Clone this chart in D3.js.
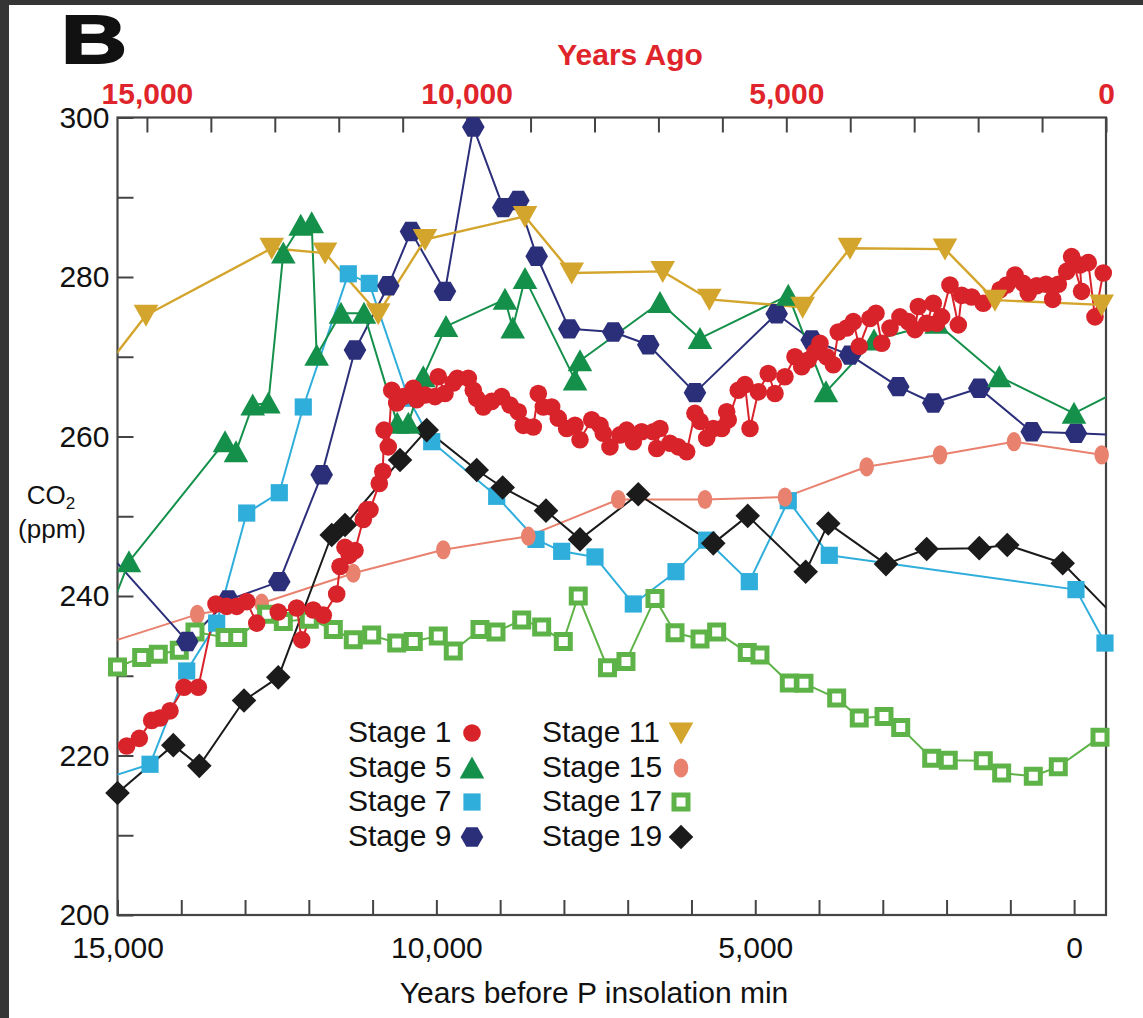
<!DOCTYPE html>
<html><head><meta charset="utf-8">
<script src="https://cdn.jsdelivr.net/npm/d3@7"></script>
<style>
body{margin:0;background:#fff}
svg{display:block}
text{font-family:"Liberation Sans",Arial,Helvetica,sans-serif}
</style>
</head><body>
<svg id="chart" width="1143" height="1018"></svg>
<script>
// ---------------- DATA (years before P insolation min, CO2 ppm) ----------------
const stage1 = [[14856,221.2],[14658,222.15],[14464,224.4],[14334,224.7],[14177,225.6],[13957,228.55],[13733,228.55],[13456,239.0],[13288,238.7],[13131,238.7],[12974,239.3],[12817,236.6],[12479,238.0],[12190,238.5],[12112,234.5],[11930,238.25],[11773,237.6],[11563,240.25],[11511,243.7],[11433,246.1],[11365,245.1],[11276,245.7],[11146,249.6],[11093,250.8],[11041,250.8],[10895,254.1],[10840,255.6],[10820,260.8],[10754,258.7],[10700,265.8],[10622,264.2],[10519,265.0],[10362,266.05],[10309,264.6],[10178,265.2],[10022,265.0],[9970,267.5],[9865,265.4],[9735,266.7],[9672,267.3],[9499,267.3],[9421,265.8],[9368,264.8],[9264,263.7],[9133,264.4],[8976,265.0],[8846,263.95],[8716,263.1],[8637,261.4],[8480,261.2],[8402,265.4],[8323,263.7],[8192,263.7],[8088,262.3],[7957,261.0],[7826,261.4],[7748,259.6],[7565,262.1],[7434,261.4],[7383,260.4],[7278,258.7],[7121,260.2],[7016,260.8],[6912,259.35],[6781,260.6],[6599,260.6],[6545,258.5],[6494,261.0],[6337,259.15],[6207,258.7],[6075,258.1],[5945,262.9],[5866,261.9],[5761,259.8],[5658,261.0],[5526,261.0],[5448,263.1],[5423,262.1],[5266,265.8],[5161,266.5],[5082,261.0],[4952,265.6],[4796,267.9],[4690,265.4],[4534,267.5],[4377,270.0],[4272,268.75],[4168,269.6],[4063,270.6],[3985,271.7],[3880,270.0],[3776,269.0],[3698,273.1],[3566,273.6],[3462,274.4],[3369,271.3],[3201,274.8],[3107,275.45],[3017,271.7],[2887,273.6],[2731,275.0],[2600,274.4],[2495,273.4],[2443,276.3],[2311,274.2],[2208,276.7],[2155,274.2],[2077,275.0],[1947,279.0],[1816,274.0],[1763,277.7],[1606,277.5],[1425,276.7],[1162,278.4],[1057,279.0],[927,280.25],[797,279.2],[719,278.0],[587,278.9],[441,279.1],[336,277.2],[248,279.1],[117,280.7],[39,282.55],[-117,278.2],[-91,281.5],[-222,281.8],[-327,275.0],[-457,280.5]];
const stage5 = [[15200,236.5],[14820,244.3],[13314,259.35],[13142,258.1],[12880,263.95],[12635,264.2],[12400,283.0],[12127,286.5],[11955,286.8],[11877,270.2],[11496,275.45],[11135,275.45],[10613,261.65],[10440,261.65],[10205,267.5],[9849,273.8],[8924,277.2],[8803,273.6],[8610,279.8],[7826,267.1],[7748,269.5],[6494,276.8],[5866,272.3],[4482,277.7],[3891,265.6],[3138,272.1],[2155,274.2],[1173,267.5],[2,262.9],[-700,265.75]];
const stage7 = [[15200,217.1],[14490,218.9],[13915,230.6],[13445,236.6],[12974,250.4],[12463,252.95],[12087,263.7],[11381,280.4],[11052,279.2],[10440,264.8],[10073,259.35],[9054,252.5],[8438,247.1],[8035,245.6],[7513,244.9],[6912,239.0],[6243,243.05],[5761,247.0],[5093,241.8],[4482,251.95],[3839,245.1],[-29,240.8],[-484,234.1]];
const stage9 = [[15200,245.9],[13906,234.3],[13263,239.5],[12463,241.8],[11798,255.2],[11276,270.85],[10754,278.9],[10398,285.7],[9865,278.2],[9421,298.8],[8951,288.7],[8715,289.6],[8427,282.6],[7916,273.5],[7226,273.1],[6677,271.5],[5945,265.5],[4664,275.4],[4115,272.1],[3514,270.2],[2757,266.25],[2208,264.2],[1487,266.05],[665,260.6],[-29,260.4],[-700,260.2]];
const stage11 = [[15300,267.5],[14553,275.2],[12582,283.6],[11746,283.0],[10911,275.4],[10178,284.7],[8610,287.6],[7878,280.5],[6451,280.7],[5720,277.2],[4256,276.2],[3514,283.6],[2025,283.5],[1241,277.1],[-432,276.5]];
const stage15 = [[15200,234.0],[13749,237.7],[12739,239.1],[11303,242.85],[9891,245.8],[8559,247.5],[7147,252.1],[5788,252.1],[4534,252.4],[3253,256.2],[2103,257.7],[943,259.35],[-432,257.7]];
const stage17 = [[15000,231.1],[14621,232.3],[14360,232.7],[14031,233.2],[13785,235.5],[13314,234.8],[13115,234.8],[12661,237.7],[12400,236.8],[11993,237.1],[11616,235.8],[11303,234.5],[11014,235.1],[10622,234.1],[10362,234.3],[9970,235.0],[9735,233.1],[9316,235.8],[9065,235.5],[8662,237.0],[8349,236.1],[8010,234.3],[7775,240.0],[7317,231.0],[7027,231.8],[6572,239.7],[6258,235.4],[5866,234.6],[5605,235.5],[5125,232.9],[4926,232.6],[4466,229.1],[4236,229.05],[3723,227.2],[3369,224.7],[2981,224.9],[2719,223.5],[2233,219.65],[1973,219.4],[1424,219.35],[1136,217.8],[640,217.4],[248,218.6],[-406,222.3]];
const stage19 = [[15000,215.3],[14125,221.3],[13717,218.7],[13016,226.9],[12479,229.8],[11641,247.65],[11433,248.9],[10570,257.05],[10152,260.8],[9368,255.8],[8960,253.6],[8281,250.7],[7748,247.1],[6834,252.75],[5658,246.6],[5118,250.05],[4209,243.05],[3855,249.1],[2950,244.0],[2312,245.9],[1487,246.0],[1048,246.4],[179,244.1],[-700,236.9]];

const stageNames = ["Stage 1","Stage 5","Stage 7","Stage 9","Stage 11","Stage 15","Stage 17","Stage 19"];
const bottomTickLabels = [15000,10000,5000,0];
const topTickLabels = [15000,10000,5000,0];
const yTickLabels = [200,220,240,260,280,300];

// ---------------- STYLE ----------------
const styles = {
  "Stage 1":  {data: stage1,  color:"#D8232A", shape:"circle"},
  "Stage 5":  {data: stage5,  color:"#14904A", shape:"triUp"},
  "Stage 7":  {data: stage7,  color:"#30AEDB", shape:"square"},
  "Stage 9":  {data: stage9,  color:"#2B2F7A", shape:"hexagon"},
  "Stage 11": {data: stage11, color:"#D4A52C", shape:"triDown"},
  "Stage 15": {data: stage15, color:"#E9816F", shape:"ellipse"},
  "Stage 17": {data: stage17, color:"#5DB347", shape:"openSquare"},
  "Stage 19": {data: stage19, color:"#1B1B1B", shape:"diamond"}
};
const drawOrder = ["Stage 7","Stage 15","Stage 17","Stage 19","Stage 9","Stage 5","Stage 1","Stage 11"];

const shapes = {
  circle: "M8.8,0A8.8,8.8 0 1,1 -8.8,0A8.8,8.8 0 1,1 8.8,0Z",
  ellipse: "M7.3,0A7.3,9.6 0 1,1 -7.3,0A7.3,9.6 0 1,1 7.3,0Z",
  triUp: "M0,-11.5L12.3,10.5L-12.3,10.5Z",
  triDown: "M0,11.5L12.3,-10.5L-12.3,-10.5Z",
  square: "M-8.6,-8.6h17.2v17.2h-17.2Z",
  openSquare: "M-7,-7h14v14h-14Z",
  hexagon: "M-11.3,0L-5.65,-9.7L5.65,-9.7L11.3,0L5.65,9.7L-5.65,9.7Z",
  diamond: "M0,-12.3L12.3,0L0,12.3L-12.3,0Z"
};

const W = 1143, H = 1018;
const L = 117.5, R = 1106, T = 117.5, B = 915;

const svg = d3.select("#chart");
svg.append("rect").attr("width",W).attr("height",H).attr("fill","#fff");
svg.append("rect").attr("x",0).attr("y",0).attr("width",9).attr("height",H).attr("fill","#353535");
svg.append("rect").attr("x",0).attr("y",0).attr("width",W).attr("height",5).attr("fill","#353535");

const x = d3.scaleLinear().domain([15000,-500]).range([L,R]);
const xTop = d3.scaleLinear().domain([15460,0]).range([L,R]);
const y = d3.scaleLinear().domain([200,300]).range([B,T]);

const axisColor = "#444";

// bottom axis
const gB = svg.append("g").attr("transform",`translate(0,${B})`)
  .call(d3.axisBottom(x).tickValues(d3.range(15000,-1,-1000)).tickSizeInner(-15).tickSizeOuter(0).tickPadding(22)
    .tickFormat(d => bottomTickLabels.includes(d) ? d3.format(",")(d) : ""));
// top axis
const gT = svg.append("g").attr("transform",`translate(0,${T})`)
  .call(d3.axisTop(xTop).tickValues(d3.range(15000,-1,-1000)).tickSizeInner(-15).tickSizeOuter(0).tickPadding(14)
    .tickFormat(d => topTickLabels.includes(d) ? d3.format(",")(d) : ""));
// left axis
const gL = svg.append("g").attr("transform",`translate(${L},0)`)
  .call(d3.axisLeft(y).tickValues(d3.range(200,301,10)).tickSizeInner(-16).tickSizeOuter(0).tickPadding(8)
    .tickFormat(d => yTickLabels.includes(d) ? d : ""));

[gB,gT,gL].forEach(g=>{
  g.select(".domain").remove();
  g.selectAll(".tick line").attr("stroke",axisColor).attr("stroke-width",2);
  g.selectAll(".tick text").attr("fill","#111").style("font-size","30px").attr("font-family",null);
});
gT.selectAll(".tick text").attr("fill","#E0242B").style("font-weight","bold");

// frame
svg.append("rect").attr("x",L).attr("y",T).attr("width",R-L).attr("height",B-T)
  .attr("fill","none").attr("stroke",axisColor).attr("stroke-width",2.2);

// clip
svg.append("clipPath").attr("id","plotclip").append("rect")
  .attr("x",L).attr("y",T).attr("width",R-L).attr("height",B-T);

const line = d3.line().x(d=>x(d[0])).y(d=>y(d[1]));
const linesG = svg.append("g").attr("clip-path","url(#plotclip)");
const marksG = svg.append("g");

drawOrder.forEach(name=>{
  const s = styles[name];
  linesG.append("path").datum(s.data).attr("d",line)
    .attr("fill","none").attr("stroke",s.color)
    .attr("stroke-width", name==="Stage 11" ? 2.4 : 2)
    .attr("stroke-linejoin","round");
});
drawOrder.forEach(name=>{
  const s = styles[name];
  const pts = s.data.filter(d => d[0] <= 15000 && d[0] >= -500);
  const sel = marksG.append("g").selectAll("path").data(pts).join("path")
    .attr("transform", d=>`translate(${x(d[0])},${y(d[1])})`)
    .attr("d", shapes[s.shape]);
  if (s.shape === "openSquare") sel.attr("fill","#fff").attr("stroke",s.color).attr("stroke-width",5);
  else sel.attr("fill",s.color);
});

// axis titles
svg.append("text").attr("x",630).attr("y",65).attr("text-anchor","middle")
  .style("font-size","30px").style("font-weight","bold").attr("fill","#E0242B").text("Years Ago");
svg.append("text").attr("x",594).attr("y",1003).attr("text-anchor","middle")
  .style("font-size","30px").attr("fill","#111").text("Years before P insolation min");
const co2 = svg.append("text").attr("x",51).attr("y",504).attr("text-anchor","middle")
  .style("font-size","26px").attr("fill","#111");
co2.append("tspan").text("CO");
co2.append("tspan").attr("dy",5).style("font-size","17px").text("2");
svg.append("text").attr("x",52).attr("y",538).attr("text-anchor","middle")
  .style("font-size","26px").attr("fill","#111").text("(ppm)");

// panel label
svg.append("text").attr("x",61).attr("y",63).style("font-size","69px").style("font-weight","bold")
  .attr("fill","#111").attr("stroke","#111").attr("stroke-width",2)
  .attr("textLength",66).attr("lengthAdjust","spacingAndGlyphs").text("B");

// legend
const legendCols = [
  {names: stageNames.slice(0,4), tx:348, mx:472},
  {names: stageNames.slice(4),   tx:542, mx:681}
];
const rowBase = [742,777,811,846];
legendCols.forEach(col=>{
  col.names.forEach((name,i)=>{
    const s = styles[name];
    svg.append("text").attr("x",col.tx).attr("y",rowBase[i])
      .style("font-size","30px").attr("fill","#111").text(name);
    const m = svg.append("path").attr("d",shapes[s.shape])
      .attr("transform",`translate(${col.mx},${rowBase[i]-9})`);
    if (s.shape === "openSquare") m.attr("fill","#fff").attr("stroke",s.color).attr("stroke-width",5);
    else m.attr("fill",s.color);
  });
});
</script>
</body></html>
